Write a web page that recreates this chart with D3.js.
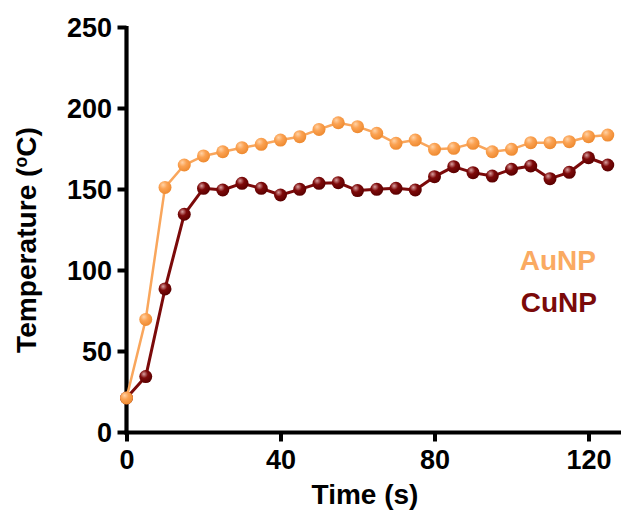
<!DOCTYPE html>
<html>
<head>
<meta charset="utf-8">
<script src="https://cdn.jsdelivr.net/npm/d3@7"></script>
<style>
  html, body { margin: 0; padding: 0; background: #fff; }
  svg { display: block; font-family: "Liberation Sans", Arial, sans-serif; }
</style>
</head>
<body>
<svg id="chart" width="621" height="510"></svg>
<script>
const times = [0,5,10,15,20,25,30,35,40,45,50,55,60,65,70,75,80,85,90,95,100,105,110,115,120,125];
const auNP = [21,69.5,151,164.8,170.4,173,175.5,177.6,180.2,182.3,186.8,190.9,188.5,184.4,178.2,180.2,174.5,175.1,178.2,173,174.5,178.6,178.6,179.2,182.3,183.3];
const cuNP = [21,34.2,88.3,134.4,150.4,149.4,153.5,150.4,146.3,149.8,153.5,153.9,149,149.8,150.4,149.4,157.6,163.8,160.1,158,162.2,164.2,156.4,160.3,169.3,164.8];
const xTicks = [0,40,80,120];
const yTicks = [0,50,100,150,200,250];
const seriesNames = ["AuNP","CuNP"];

const svg = d3.select("#chart");
const x = d3.scaleLinear().domain([0,130]).range([126.5, 126.5 + 3.85*130]);
const y = d3.scaleLinear().domain([0,250]).range([432, 27]);

const defs = svg.append("defs");
function grad(id, light, mid, dark) {
  const g = defs.append("radialGradient").attr("id", id)
    .attr("cx","40%").attr("cy","35%").attr("r","65%").attr("fx","35%").attr("fy","30%");
  g.append("stop").attr("offset","0%").attr("stop-color", light);
  g.append("stop").attr("offset","45%").attr("stop-color", mid);
  g.append("stop").attr("offset","100%").attr("stop-color", dark);
}
grad("gAu", "#FFD2A6", "#FBA252", "#EE8A30");
grad("gCu", "#D9A0A0", "#7E0A0A", "#5A0000");

// axes
const yAxis = d3.axisLeft(y).tickValues(yTicks).tickSize(9).tickPadding(4);
const xAxis = d3.axisBottom(x).tickValues(xTicks).tickSize(9).tickPadding(4);

const gy = svg.append("g").attr("transform", "translate(126.5,0)").call(yAxis);
const gx = svg.append("g").attr("transform", "translate(0,432.5)").call(xAxis);
[gx, gy].forEach(g => {
  g.select(".domain").remove();
  g.selectAll(".tick line").attr("stroke","#000").attr("stroke-width",4);
  g.selectAll(".tick text").attr("fill","#000").attr("font-size","27px").attr("font-weight","bold");
});
gx.selectAll(".tick text").attr("y", 36.5).attr("dy", 0);
gy.selectAll(".tick text").attr("x", -14.5).attr("dy","0.34em");

// axis lines
svg.append("line").attr("x1",126.5).attr("x2",126.5).attr("y1",y(250)-1).attr("y2",434.5)
  .attr("stroke","#000").attr("stroke-width",4.2);
svg.append("line").attr("x1",124.5).attr("x2",621).attr("y1",432.5).attr("y2",432.5)
  .attr("stroke","#000").attr("stroke-width",4.2);

// axis titles
svg.append("text").attr("x",365).attr("y",504).attr("text-anchor","middle")
  .attr("font-size","28px").attr("font-weight","bold").text("Time (s)");

const ytG = svg.append("g").attr("transform","translate(36,0) rotate(-90)");
const yt = ytG.append("text").attr("x",0).attr("y",0)
  .attr("text-anchor","start").attr("font-size","27px").attr("font-weight","bold");
yt.append("tspan").text("Temperature (");
yt.append("tspan").attr("dy", -9).attr("font-size","17px").text("o");
yt.append("tspan").attr("dy", 9).text("C)");
let bb = yt.node().getBBox();
const fs = 27 * 226 / bb.width;
yt.attr("font-size", fs + "px");
yt.select("tspan:nth-child(2)").attr("font-size", (fs*0.63) + "px");
bb = yt.node().getBBox();
yt.attr("x", -240 - bb.width/2);

// series
const line = d3.line().x(d => x(d[0])).y(d => y(d[1]));
function drawSeries(vals, color, width, gradId, r) {
  const pts = times.map((t,i) => [t, vals[i]]);
  svg.append("path").datum(pts).attr("d", line).attr("fill","none")
    .attr("stroke", color).attr("stroke-width", width).attr("stroke-linejoin","round");
  svg.append("g").selectAll("circle").data(pts).join("circle")
    .attr("cx", d => x(d[0])).attr("cy", d => y(d[1])).attr("r", r)
    .attr("fill", `url(#${gradId})`);
}
drawSeries(cuNP, "#7B0A0A", 3, "gCu", 6.5);
drawSeries(auNP, "#F9A65C", 2.5, "gAu", 6.5);

// legend
svg.append("text").attr("x",596).attr("y",270).attr("text-anchor","end")
  .attr("font-size","28px").attr("font-weight","bold").attr("fill","#FAAA62").text(seriesNames[0]);
svg.append("text").attr("x",597).attr("y",312).attr("text-anchor","end")
  .attr("font-size","28px").attr("font-weight","bold").attr("fill","#7B0A0A").text(seriesNames[1]);
</script>
</body>
</html>
